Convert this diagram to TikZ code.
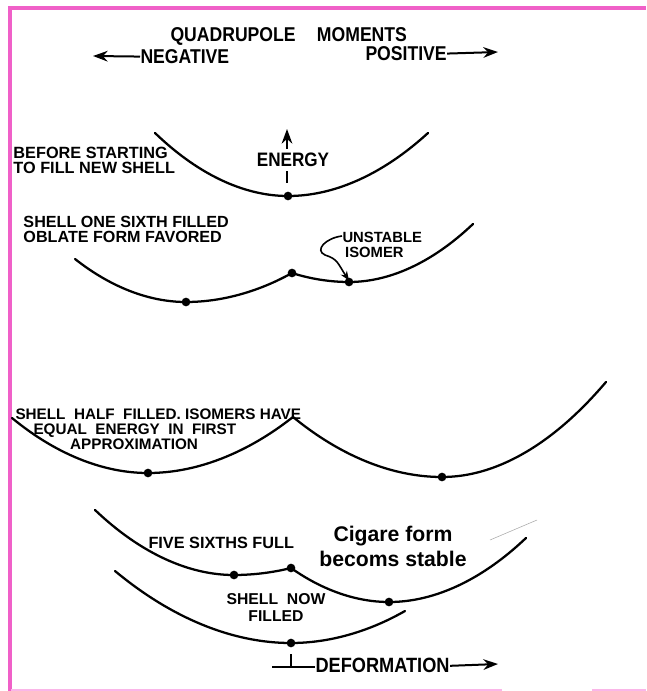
\documentclass[tikz,border=0pt]{standalone}
\usepackage{fontspec}
\setmainfont{Liberation Sans}
\newfontfamily\bigletters[FakeStretch=0.88]{Liberation Sans}
\usetikzlibrary{arrows.meta}
\definecolor{framepink}{RGB}{240,96,200}
\definecolor{framelight}{RGB}{250,182,232}
\tikzset{every picture/.style={line width=0.75pt},
  curve/.style={line width=1.7pt, line cap=round},
  dot/.style={circle, fill=black, inner sep=0pt, minimum size=6.5pt},
  arr/.style={line width=1.5pt, -{Stealth[length=11pt,width=8pt]}},
  lbl/.style={inner sep=0pt, anchor=north west, align=left, font=\fontsize{12.2}{11.25}\bfseries},
  big/.style={inner sep=0pt, font=\fontsize{15}{14}\bigletters\bfseries},
}
\begin{document}
\begin{tikzpicture}[x=0.75pt,y=0.75pt,yscale=-1,xscale=1]
\useasboundingbox (0,0) rectangle (646,691);

%Frame
\draw [framepink, line width=3pt] (9.5,691) -- (9.5,8) -- (646,8) ;
\draw [framelight, line width=0.9pt] (11,690) -- (502,690) ;
\draw [framelight, line width=0.9pt] (592,690) -- (646,690) ;

% Text Node
\node [big, anchor=north west] (title) at (170,27) {QUADRUPOLE\hspace{16pt}MOMENTS};
% Text Node
\node [big, anchor=north west] (neg) at (140,49) {NEGATIVE};
% Text Node
\node [big, anchor=north west] (pos) at (365,46) {POSITIVE};
\coordinate (negtip) at (93,56);
\coordinate (postip) at (498,52);
\draw [arr] (neg.west) -- (negtip) ;
\draw [arr] (pos.east) -- (postip) ;

%Curve 1: before starting
\coordinate (c1a) at (155,133);
\coordinate (c1b) at (428,133);
\node [dot] (d1) at (288,196) {};
\draw [curve] (c1a) parabola bend (d1.center) (c1b) ;
\coordinate (ebot) at (287,183);
\coordinate (etop) at (287,129);
\draw [arr] (ebot) -- (etop) ;
% Text Node
\node [big, fill=white, inner sep=3pt, font=\fontsize{14.6}{14}\bigletters\bfseries] (energy) at (293,160) {ENERGY};
% Text Node
\node [lbl] (before) at (13,147) {BEFORE STARTING\\TO FILL NEW SHELL};

%Curve 2: one sixth filled
\coordinate (c2a) at (75,259);
\coordinate (c2b) at (473,224);
\node [dot] (d2l) at (186,302) {};
\node [dot] (d2m) at (292,273) {};
\node [dot] (d2r) at (349,282) {};
\draw [curve] (c2a) parabola bend (d2l.center) (d2m.center) ;
\draw [curve] (d2m.center) parabola bend (d2r.center) (c2b) ;
% Text Node
\node [lbl, font=\fontsize{12.1}{11.25}\bfseries] (sixth) at (23,216) {SHELL ONE SIXTH FILLED\\OBLATE FORM FAVORED};
% Text Node
\node [lbl, font=\fontsize{11.1}{10.9}\bfseries] (unstable) at (342,232) {UNSTABLE\\\hspace*{2pt}ISOMER};
\draw [line width=1.2pt, -{Stealth[length=7pt,width=5.5pt]}] ([yshift=3pt]unstable.north west) .. controls (326,238) and (314,250) .. (325,255) .. controls (338,259) and (338,264) .. ([yshift=2.5pt]d2r.north) ;

%Curve 3: half filled
\coordinate (c3a) at (12,418);
\coordinate (c3b) at (606,382);
\node [dot] (d3l) at (148,473) {};
\coordinate (d3m) at (293,417);
\node [dot] (d3r) at (442,477) {};
\draw [curve] (c3a) parabola bend (d3l.center) (d3m) ;
\draw [curve] (d3m) parabola bend (d3r.center) (c3b) ;
% Text Node
\node [lbl, font=\fontsize{11.45}{11.25}\bfseries] (half) at (15,408) {SHELL\ \ HALF\ \ FILLED. ISOMERS HAVE\\\hspace*{13.5pt}EQUAL\ \ ENERGY\ \ IN\ \ FIRST\\\hspace*{41pt}APPROXIMATION};

%Curve 4: five sixths full
\coordinate (c4a) at (95,510);
\coordinate (c4b) at (526,538);
\node [dot] (d4l) at (234,575) {};
\node [dot] (d4m) at (291,568) {};
\node [dot] (d4r) at (389,602) {};
\draw [curve] (c4a) parabola bend (d4l.center) (d4m.center) ;
\draw [curve] (d4m.center) parabola bend (d4r.center) (c4b) ;
\draw [black!35, line width=0.4pt] (490,540) -- (537,520) ;
% Text Node
\node [lbl] (five) at (148,537) {FIVE SIXTHS FULL};
% Text Node
\node [inner sep=0pt, anchor=north, align=center, font=\fontsize{15.9}{18.75}\bfseries] (cigare) at (393,526) {Cigare form\\becoms stable};

%Curve 5: shell now filled
\coordinate (c5a) at (115,571);
\coordinate (c5b) at (405,611);
\node [dot] (d5) at (291,643) {};
\draw [curve] (c5a) parabola bend (d5.center) (c5b) ;
% Text Node
\node [lbl, anchor=north, align=center, font=\fontsize{11.8}{12.75}\bfseries] (filled) at (276,593) {SHELL\ \ NOW\\FILLED};

%Deformation axis
\node [big, anchor=north west, font=\fontsize{15.5}{14}\bigletters\bfseries] (def) at (315,658) {DEFORMATION};
\coordinate (deftop) at (291,654);
\coordinate (defbase) at (291,667);
\coordinate (defleft) at (272,667);
\coordinate (deftip) at (498,664);
\draw [line width=1.7pt] (deftop) -- (defbase) ;
\draw [line width=1.7pt] (defleft) -- (defleft -| def.west) ;
\draw [arr] (def.east) -- (deftip) ;

\end{tikzpicture}
\end{document}
